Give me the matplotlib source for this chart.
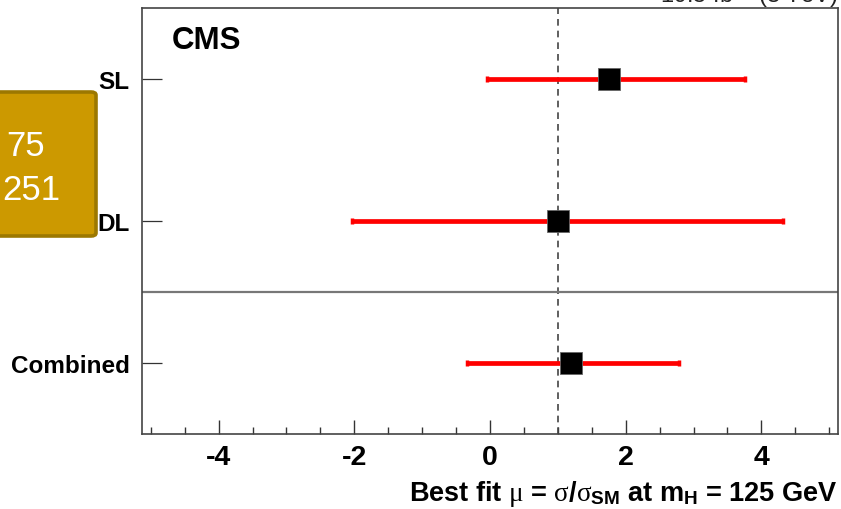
import matplotlib
matplotlib.use("Agg")
import matplotlib.pyplot as plt
from matplotlib.patches import FancyBboxPatch
from matplotlib.ticker import MultipleLocator

plt.rcParams["font.family"] = ["Liberation Sans", "DejaVu Sans"]
plt.rcParams["axes.unicode_minus"] = False
plt.rcParams["mathtext.fontset"] = "custom"
plt.rcParams["mathtext.rm"] = "Liberation Sans:bold"
plt.rcParams["mathtext.bf"] = "Liberation Sans:bold"
plt.rcParams["mathtext.it"] = "Liberation Serif"

# Best-fit signal strength per channel with asymmetric uncertainties
channels = ["Combined", "DL", "SL"]
mu_best = [1.19, 1.00, 1.75]
err_down = [1.53, 3.04, 1.79]
err_up = [1.60, 3.32, 2.01]
sm_value = 1.0
x_range = (-5.13, 5.13)

W, H = 841, 510
fig = plt.figure(figsize=(W / 100, H / 100), dpi=100)
ax = fig.add_axes([142 / W, (H - 435) / H, (838 - 142) / W, (435 - 9) / H])

ypos = [i + 0.5 for i in range(len(channels))]

ax.errorbar(mu_best, ypos, xerr=[err_down, err_up], fmt="none",
            ecolor="#ff0000", elinewidth=3.4, capsize=2.2, capthick=2.5,
            zorder=3)
ax.plot(mu_best, ypos, "s", ms=15.8, mfc="black", mec="#666666",
        mew=0.6, zorder=4)

ax.axvline(sm_value, color="#444444", lw=1.2, ls=(0, (4, 3)), zorder=2)
ax.axhline(1.0, color="#777777", lw=1.6, zorder=2)

ax.set_xlim(*x_range)
ax.set_ylim(0, len(channels))

ax.xaxis.set_major_locator(MultipleLocator(2))
ax.xaxis.set_minor_locator(MultipleLocator(0.5))
ax.tick_params(axis="x", which="major", direction="in", length=10,
               width=1.0, color="#333333", labelsize=20.5, pad=7,
               top=False)
ax.tick_params(axis="x", which="minor", direction="in", length=5,
               width=1.0, color="#333333", top=False)
for lbl in ax.get_xticklabels():
    lbl.set_fontweight("bold")

ax.set_yticks(ypos)
ax.set_yticklabels(channels, fontsize=17.5, fontweight="bold")
ax.tick_params(axis="y", which="major", direction="in", length=14.5,
               width=0.9, color="#333333", pad=9, right=False)
ax.tick_params(axis="y", which="minor", left=False, right=False)

for s in ax.spines.values():
    s.set_color("#444444")
    s.set_linewidth(1.2)

ax.set_xlabel(r"Best fit $\mu$ = $\sigma$/$\sigma_{\mathrm{SM}}$ at m$_{\mathrm{H}}$ = 125 GeV",
              fontsize=19.5, fontweight="bold", ha="right", x=1.0,
              labelpad=6)

ax.text((172 - 142) / (838 - 142), 1 - (49 - 9) / (435 - 9),
        "CMS", transform=ax.transAxes, fontsize=22.5, fontweight="bold",
        ha="left", va="baseline")

fig.text(838 / W, 1 - 3 / H, r"19.5 fb$^{-1}$ (8 TeV)", fontsize=17,
         ha="right", va="baseline", color="#222222")

# Overlay tag at the left edge
box = FancyBboxPatch((-10 / W, (H - 237) / H), (96 + 10) / W, (237 - 93) / H,
                     boxstyle="round,pad=0,rounding_size=0.006",
                     transform=fig.transFigure, facecolor="#cc9900",
                     edgecolor="#9c7800", linewidth=2.6, zorder=10)
fig.add_artist(box)
fig.text(6 / W, 1 - 156 / H, "75", fontsize=25, color="white",
         ha="left", va="baseline", zorder=11)
fig.text(2 / W, 1 - 200 / H, "251", fontsize=25, color="white",
         ha="left", va="baseline", zorder=11)

fig.savefig("out.png", dpi=100)
